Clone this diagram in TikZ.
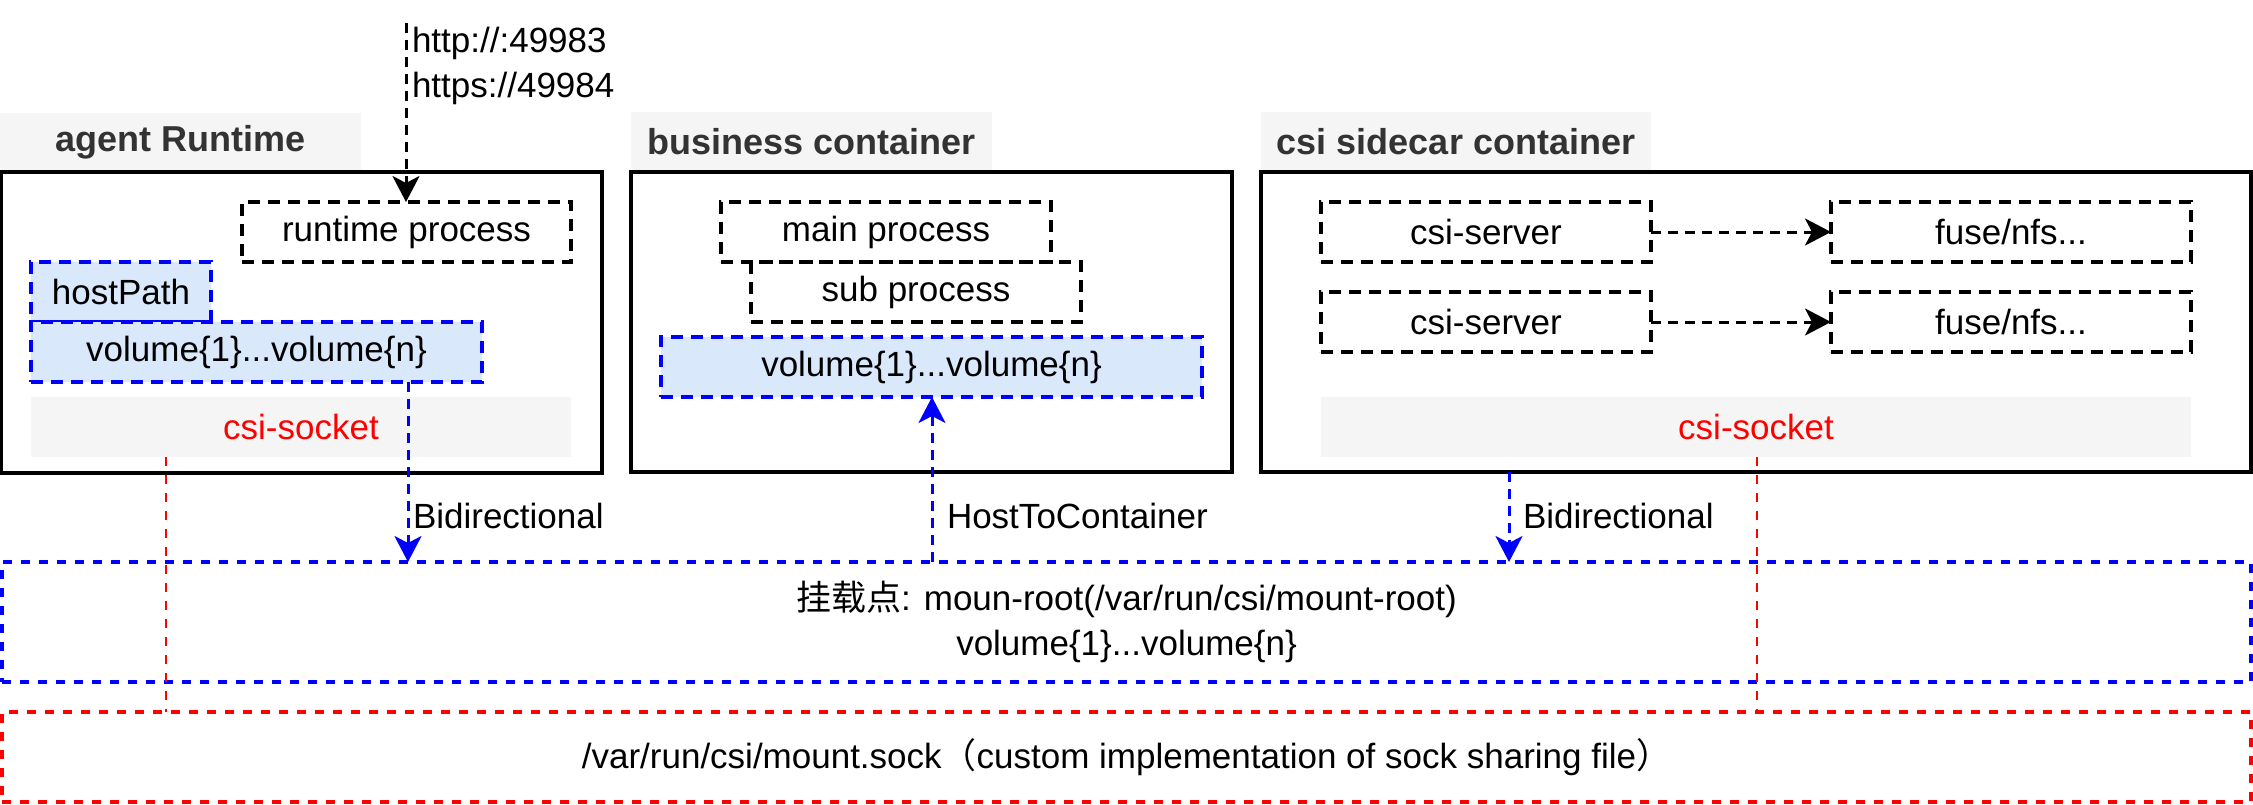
\documentclass[tikz,border=0pt]{standalone}
\usepackage{fontspec}
\setmainfont{Liberation Sans}
\newfontfamily\cjk{Noto Sans CJK SC}
\usetikzlibrary{arrows.meta}
\definecolor{titlegray}{HTML}{F5F5F5}
\definecolor{titletext}{HTML}{333333}
\definecolor{volfill}{HTML}{DAE8FC}
\definecolor{myblue}{HTML}{0000FF}
\definecolor{myred}{HTML}{FF0000}
\begin{document}
\begin{tikzpicture}[x=1pt,y=-1pt,
  every node/.style={inner sep=0pt, outer sep=0pt, font=\fontsize{35}{45}\selectfont},
  titlebox/.style={fill=titlegray, anchor=north west, text=titletext, font=\fontsize{36}{45}\selectfont\bfseries},
  container/.style={draw=black, line width=3.3pt, anchor=north west},
  procbox/.style={draw=black, line width=3.6pt, dash pattern=on 12pt off 8pt, anchor=north west},
  volbox/.style={draw=myblue, fill=volfill, line width=3.6pt, dash pattern=on 12pt off 8pt, anchor=north west},
  sockbox/.style={fill=titlegray, text=myred, anchor=north west},
  mountbox/.style={draw=myblue, line width=3.3pt, dash pattern=on 9pt off 9pt, anchor=north west, align=center},
  filebox/.style={draw=myred, line width=3.3pt, dash pattern=on 9pt off 9pt, anchor=north west},
  tipa/.style={-{Stealth[length=26pt,width=27pt,inset=7pt]}},
  blackconn/.style={draw=black, line width=3pt, dash pattern=on 10pt off 7pt, tipa},
  blueconn/.style={draw=myblue, line width=3pt, dash pattern=on 10pt off 7pt, tipa},
  redconn/.style={draw=myred, line width=2.8pt, dash pattern=on 9pt off 9pt},
  lbl/.style={anchor=west, align=left}
]
\useasboundingbox (0,0) rectangle (2253,804);

% agent runtime
\node[titlebox, minimum width=361pt, minimum height=58pt] (agentT) at (0,113) {agent Runtime};
\node[container, minimum width=601pt, minimum height=301pt] (agent) at (1,172) {};
\node[procbox, minimum width=329pt, minimum height=60pt] (runtime) at (242,202) {runtime process};
\node[volbox, minimum width=180pt, minimum height=60pt] (host) at (31,262) {hostPath};
\node[volbox, minimum width=451pt, minimum height=60pt] (vol1) at (31,322) {volume\{1\}...volume\{n\}};
\node[sockbox, minimum width=540pt, minimum height=60pt] (sock1) at (31,397) {csi-socket};

% business container
\node[titlebox, minimum width=361pt, minimum height=60pt] (busT) at (631,112) {business container};
\node[container, minimum width=601pt, minimum height=300pt] (bus) at (631,172) {};
\node[procbox, minimum width=330pt, minimum height=60pt] (mainp) at (721,202) {main process};
\node[procbox, minimum width=330pt, minimum height=60pt] (subp) at (751,262) {sub process};
\node[volbox, minimum width=541pt, minimum height=60pt] (vol2) at (661,337) {volume\{1\}...volume\{n\}};

% csi sidecar container
\node[titlebox, minimum width=390pt, minimum height=60pt] (csiT) at (1261,112) {csi sidecar container};
\node[container, minimum width=990pt, minimum height=300pt] (csi) at (1261,172) {};
\node[procbox, minimum width=330pt, minimum height=60pt] (srv1) at (1321,202) {csi-server};
\node[procbox, minimum width=360pt, minimum height=60pt] (fuse1) at (1831,202) {fuse/nfs...};
\node[procbox, minimum width=330pt, minimum height=60pt] (srv2) at (1321,292) {csi-server};
\node[procbox, minimum width=360pt, minimum height=60pt] (fuse2) at (1831,292) {fuse/nfs...};
\node[sockbox, minimum width=870pt, minimum height=60pt] (sock2) at (1321,397) {csi-socket};

% bottom boxes
\node[mountbox, minimum width=2249pt, minimum height=120pt] (mount) at (2,562) {{\cjk 挂载点}: moun-root(/var/run/csi/mount-root)\\volume\{1\}...volume\{n\}};
\node[filebox, minimum width=2249pt, minimum height=90pt] (sockfile) at (2,712) {/var/run/csi/mount.sock{\cjk （}custom implementation of sock sharing file{\cjk ）}};

% helper coordinates
\coordinate (top) at (406,23);
\coordinate (xa) at (408,0);
\coordinate (xb) at (932,0);
\coordinate (xc) at (1509,0);
\coordinate (xr1) at (166,0);
\coordinate (xr2) at (1757,0);

% connectors
\draw[blackconn] (top) -- (runtime.north -| top);
\draw[blackconn] (srv1) -- (fuse1);
\draw[blackconn] (srv2) -- (fuse2);
\draw[redconn] (sock1.south -| xr1) -- (sockfile.north -| xr1);
\draw[redconn] (sock2.south -| xr2) -- (sockfile.north -| xr2);
\draw[blueconn] (vol1.south -| xa) -- (mount.north -| xa);
\draw[blueconn] (mount.north -| xb) -- (vol2.south -| xb);
\draw[blueconn] (csi.south -| xc) -- (mount.north -| xc);

% labels
\node[lbl] (http) at (412,65.5) {http://:49983\\https://49984};
\node[lbl] (lb1) at (413,516) {Bidirectional};
\node[lbl] (lb2) at (947,516) {HostToContainer};
\node[lbl] (lb3) at (1523,516) {Bidirectional};
\end{tikzpicture}
\end{document}
